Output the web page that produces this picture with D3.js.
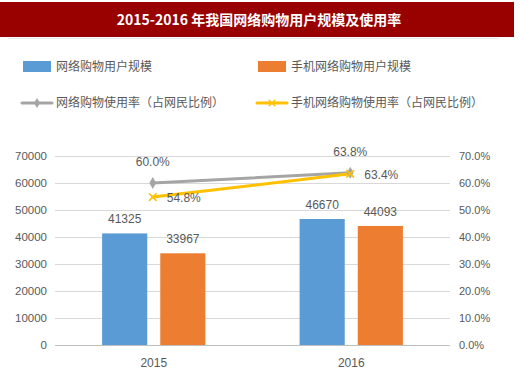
<!DOCTYPE html>
<html>
<head>
<meta charset="utf-8">
<script src="https://cdn.jsdelivr.net/npm/d3@7"></script>
<style>
  body { margin: 0; background: #fff; }
  text { font-family: "Liberation Sans", "Noto Sans CJK SC", sans-serif; }
  .cjk { font-family: "Noto Sans CJK SC", sans-serif; }
</style>
</head>
<body>
<svg id="chart" width="520" height="377"></svg>
<script>
// data
const years = ["2015", "2016"];
const netUsers = [41325, 46670];
const mobileUsers = [33967, 44093];
const netRate = [60.0, 63.8];
const mobileRate = [54.8, 63.4];
const leftTicks = [0, 10000, 20000, 30000, 40000, 50000, 60000, 70000];
const rightTicks = [0, 10, 20, 30, 40, 50, 60, 70];
const seriesNames = ["网络购物用户规模", "手机网络购物用户规模", "网络购物使用率（占网民比例）", "手机网络购物使用率（占网民比例）"];

const blue = "#5b9bd5", orange = "#ed7d31", gray = "#a5a5a5", yellow = "#ffc000";
const textColor = "#595959";

let svg = d3.select("#chart");

// title band
svg.append("rect").attr("x", 0).attr("y", 2).attr("width", 514).attr("height", 35).attr("fill", "#990000");
svg.append("line").attr("x1", 8).attr("x2", 498).attr("y1", 38.5).attr("y2", 38.5).attr("stroke", "#e6e6e6");
svg.append("text")
	.attr("x", 259).attr("y", 25)
	.attr("text-anchor", "middle")
	.attr("fill", "#fff")
	.attr("font-size", 14)
	.attr("font-weight", "bold")
	.attr("class", "cjk")
	.text("2015-2016 年我国网络购物用户规模及使用率");

// legend
let legend = svg.append("g").attr("font-size", 12).attr("fill", textColor);
[[23, 67, 0], [258, 67, 1]].forEach(([x, y, k]) => {
	legend.append("rect").attr("x", x).attr("y", y - 6).attr("width", 28).attr("height", 11)
		.attr("fill", k == 0 ? blue : orange);
	legend.append("text").attr("class", "cjk").attr("x", x + 33).attr("y", y + 4).text(seriesNames[k]);
});
[[22, 103, 2], [257, 103, 3]].forEach(([x, y, k]) => {
	let c = k == 2 ? gray : yellow;
	legend.append("line").attr("x1", x).attr("x2", x + 30).attr("y1", y).attr("y2", y)
		.attr("stroke", c).attr("stroke-width", 3).attr("stroke-linecap", "round");
	if (k == 2) {
		legend.append("path").attr("d", d3.symbol(d3.symbolDiamond, 30)()).attr("transform", `translate(${x + 15},${y})`).attr("fill", c);
	} else {
		legend.append("path").attr("d", d3.symbol(d3.symbolX, 30)()).attr("transform", `translate(${x + 15},${y})`)
			.attr("fill", "none").attr("stroke", c).attr("stroke-width", 1.2);
	}
	legend.append("text").attr("class", "cjk").attr("x", x + 34).attr("y", y + 4).text(seriesNames[k]);
});

// scales
let x0 = d3.scaleBand().domain(years).range([55, 450]);
let x1 = d3.scaleBand().domain(["a", "b"]).range([0, x0.bandwidth()]).paddingInner(0.224).paddingOuter(0.81);
let yL = d3.scaleLinear().domain([0, 70000]).range([345, 156]);
let yR = d3.scaleLinear().domain([0, 70]).range([345, 156]);

// gridlines
svg.append("g").selectAll("line").data(leftTicks.slice(1)).join("line")
	.attr("x1", 55).attr("x2", 450)
	.attr("y1", d => Math.round(yL(d)) + 0.5).attr("y2", d => Math.round(yL(d)) + 0.5)
	.attr("stroke", "#d9d9d9");

// left axis
let axL = svg.append("g").attr("transform", "translate(55,0)")
	.call(d3.axisLeft(yL).tickValues(leftTicks).tickSize(0).tickPadding(8).tickFormat(d3.format("d")));
axL.select(".domain").remove();
axL.selectAll("text").attr("font-size", 11.5).attr("fill", textColor).attr("font-family", "Liberation Sans");

// right axis
let axR = svg.append("g").attr("transform", "translate(450,0)")
	.call(d3.axisRight(yR).tickValues(rightTicks).tickSize(0).tickPadding(9).tickFormat(d => d.toFixed(1) + "%"));
axR.select(".domain").remove();
axR.selectAll("text").attr("font-size", 11).attr("fill", textColor).attr("font-family", "Liberation Sans");

// bars
let groups = svg.append("g").selectAll("g").data(years).join("g")
	.attr("transform", d => `translate(${x0(d)},0)`);
groups.each(function (d, i) {
	let g = d3.select(this);
	[["a", netUsers[i], blue], ["b", mobileUsers[i], orange]].forEach(([k, v, c]) => {
		g.append("rect")
			.attr("x", x1(k)).attr("width", x1.bandwidth())
			.attr("y", yL(v)).attr("height", yL(0) - yL(v))
			.attr("fill", c);
		g.append("text")
			.attr("x", x1(k) + x1.bandwidth() / 2).attr("y", yL(v) - 10)
			.attr("text-anchor", "middle").attr("font-size", 12).attr("fill", textColor)
			.text(v);
	});
});

// x axis
svg.append("line").attr("x1", 55).attr("x2", 450).attr("y1", 345.5).attr("y2", 345.5).attr("stroke", "#bfbfbf");
svg.append("g").selectAll("text").data(years).join("text")
	.attr("x", d => x0(d) + x0.bandwidth() / 2).attr("y", 367)
	.attr("text-anchor", "middle").attr("font-size", 12).attr("fill", textColor)
	.text(d => d);

// lines
let cx = (d, i) => x0(years[i]) + x0.bandwidth() / 2 - 1;
let line = d3.line().x(cx).y(d => yR(d));

svg.append("path").attr("d", line(netRate)).attr("fill", "none").attr("stroke", gray).attr("stroke-width", 3).attr("stroke-linecap", "round");
svg.append("path").attr("d", line(mobileRate)).attr("fill", "none").attr("stroke", yellow).attr("stroke-width", 3).attr("stroke-linecap", "round");

svg.append("g").selectAll("path").data(netRate).join("path")
	.attr("d", d3.symbol(d3.symbolDiamond, 40)())
	.attr("transform", (d, i) => `translate(${cx(d, i)},${yR(d)})`)
	.attr("fill", gray);
svg.append("g").selectAll("path").data(mobileRate).join("path")
	.attr("d", d3.symbol(d3.symbolX, 40)())
	.attr("transform", (d, i) => `translate(${cx(d, i)},${yR(d)})`)
	.attr("fill", "none").attr("stroke", yellow).attr("stroke-width", 1.5);

// rate labels
svg.append("g").selectAll("text").data(netRate).join("text")
	.attr("x", (d, i) => cx(d, i)).attr("y", d => yR(d) - 17)
	.attr("text-anchor", "middle").attr("font-size", 12).attr("fill", textColor)
	.text(d => d.toFixed(1) + "%");
svg.append("g").selectAll("text").data(mobileRate).join("text")
	.attr("x", (d, i) => cx(d, i) + 14).attr("y", d => yR(d) + 5)
	.attr("font-size", 12).attr("fill", textColor)
	.text(d => d.toFixed(1) + "%");
</script>
</body>
</html>
